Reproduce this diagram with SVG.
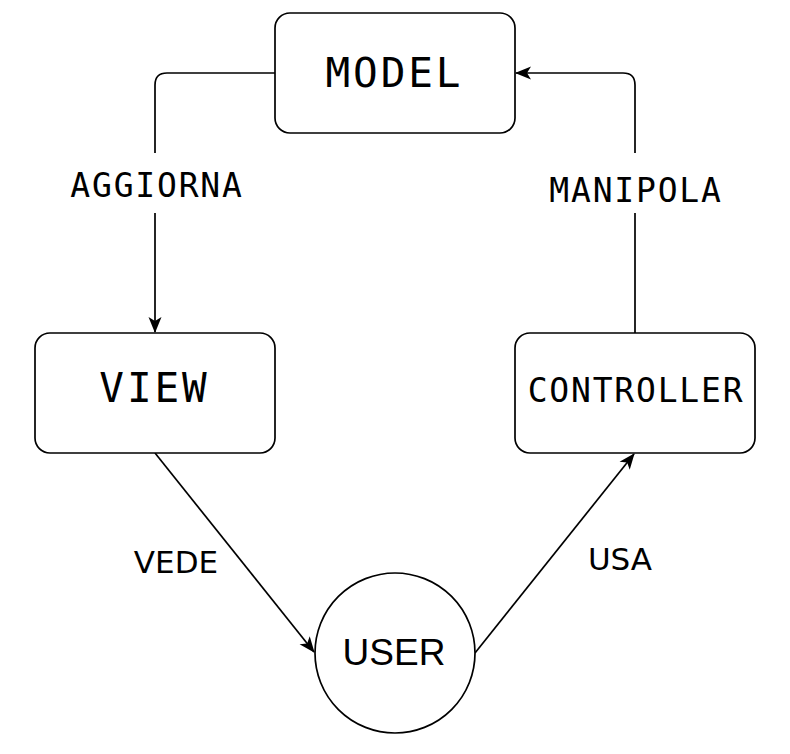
<svg xmlns="http://www.w3.org/2000/svg" width="790" height="754" viewBox="0 0 790 754">
<style>
.box{fill:#fff;stroke:#000;stroke-width:1.7}
.edge{fill:none;stroke:#000;stroke-width:1.7}
.mono{font-family:"DejaVu Sans Mono","Liberation Mono",monospace;fill:#000;text-anchor:middle}
.m36{font-size:33px;letter-spacing:1.8px}
.m46{font-size:41px;letter-spacing:2.9px}
.lbl{font-family:"DejaVu Sans","Liberation Sans",sans-serif;fill:#000;text-anchor:middle}
.bg{fill:#fff}
</style>
<defs>
<marker id="arr" viewBox="0 0 16 14" refX="15" refY="7" markerWidth="16" markerHeight="14" markerUnits="userSpaceOnUse" orient="auto">
<path d="M0,0.5 L16,7 L0,13.5 L4,7 z" fill="#000"/>
</marker>
</defs>
<rect width="790" height="754" fill="#fff"/>
<g id="connectors">
<path class="edge" d="M275,73 H167 Q155,73 155,85 V332" marker-end="url(#arr)"/>
<path class="edge" d="M635,333 V85 Q635,73 623,73 H516" marker-end="url(#arr)"/>
<path class="edge" d="M155,453 L314,652" marker-end="url(#arr)"/>
<path class="edge" d="M475,653 L634,454" marker-end="url(#arr)"/>
<g id="label-aggiorna">
<rect class="bg" x="68" y="153" width="176" height="60"/>
<text class="mono m36" x="157" y="197">AGGIORNA</text>
</g>
<g id="label-manipola">
<rect class="bg" x="547" y="153" width="176" height="60"/>
<text class="mono m36" x="636" y="202">MANIPOLA</text>
</g>
<g id="label-vede">
<text class="lbl" x="176" y="573" font-size="31">VEDE</text>
</g>
<g id="label-usa">
<text class="lbl" x="620" y="570" font-size="31">USA</text>
</g>
</g>
<g id="model">
<rect class="box" x="275" y="13" width="240" height="120" rx="15"/>
<text class="mono m46" x="394.5" y="87">MODEL</text>
</g>
<g id="view">
<rect class="box" x="35" y="333" width="240" height="120" rx="15"/>
<text class="mono m46" x="154.5" y="402">VIEW</text>
</g>
<g id="controller">
<rect class="box" x="515" y="333" width="240" height="120" rx="15"/>
<text class="mono m36" x="636" y="402">CONTROLLER</text>
</g>
<g id="user">
<circle class="box" cx="395" cy="653" r="80"/>
<text x="394" y="665" font-size="37" font-family="'Liberation Sans',Arial,sans-serif" text-anchor="middle">USER</text>
</g>
</svg>
